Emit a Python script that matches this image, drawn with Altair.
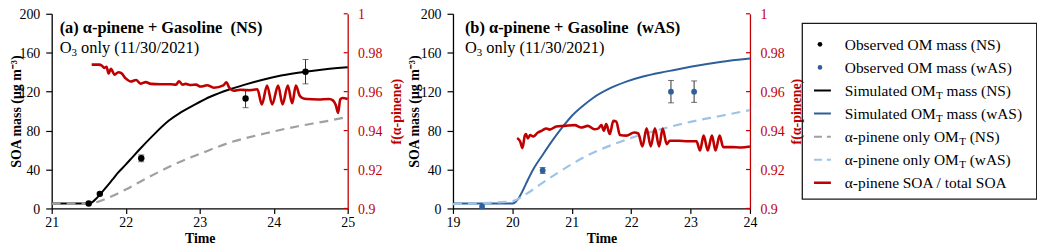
import altair as alt
import pandas as pd

# ---------------- Panel (a): α-pinene + Gasoline (NS) ----------------
ns_sim_t = [21.0, 21.5, 21.55, 21.6, 21.65, 21.7, 21.76, 21.82, 21.9, 22.0, 22.09, 22.18,
            22.35, 22.58, 22.75, 22.94, 23.15, 23.39, 23.6, 23.84, 24.1, 24.43, 24.7, 25.0]
ns_sim_v = [5, 5, 6.5, 10, 14, 18.5, 24, 29.5, 37, 45, 52.5, 60,
            73.5, 90, 99, 107, 115, 122, 127, 132, 136.5, 140.5, 143, 145]

ns_alpha_t = [21.0, 21.5, 21.7, 22.0, 22.27, 22.54, 22.77, 23.0, 23.4, 23.88, 24.33, 24.7, 25.0]
ns_alpha_v = [5, 5, 9, 19.5, 30.5, 41, 49, 56, 67.5, 77, 84.5, 89.5, 94]

ns_obs_t = [21.5, 21.65, 22.21, 23.62, 24.43]
ns_obs_v = [5, 15, 51.5, 113, 140.5]
ns_obs_err = [0, 0, 3.5, 9.5, 12.5]

ns_f_t = [21.54, 21.64, 21.68, 21.71, 21.74, 21.77, 21.80, 21.85, 21.90, 21.94, 22.00, 22.07,
          22.14, 22.20, 22.27, 22.34, 22.47, 22.61, 22.68, 22.72, 22.77, 22.81, 22.88, 22.95,
          23.01, 23.10, 23.19, 23.32, 23.36, 23.40, 23.46, 23.55, 23.64, 23.73, 23.78, 23.84,
          23.91, 23.98, 24.06, 24.12, 24.19, 24.25, 24.30, 24.35, 24.39, 24.45, 24.60, 24.75,
          24.80, 24.84, 24.87, 24.90, 24.93, 25.0]
ns_f_v = [.9739, .9739, .9733, .9722, .9728, .9693, .9717, .9687, .9700, .9695, .9668, .9652,
          .9660, .9641, .9649, .9640, .9638, .9638, .9636, .9653, .9636, .9640, .9634, .9636,
          .9626, .9633, .9620, .9632, .9648, .9620, .9605, .9610, .9607, .9610, .9612, .9534,
          .9631, .9534, .9631, .9534, .9631, .9540, .9631, .9580, .9567, .9562, .9560, .9562,
          .9555, .9530, .9491, .9560, .9567, .9562]

# ---------------- Panel (b): α-pinene + Gasoline (wAS) ----------------
was_sim_t = [19.0, 19.5, 20.0, 20.05, 20.1, 20.18, 20.25, 20.35, 20.52, 20.7, 20.85, 21.0,
             21.2, 21.37, 21.63, 21.93, 22.2, 22.49, 22.75, 23.0, 23.5, 24.0]
was_sim_v = [5, 5, 5, 6.5, 10, 19, 28, 40, 56, 72, 84, 95,
             106, 114, 123, 130.5, 135.5, 139.5, 142.5, 145.5, 150.5, 154]

was_alpha_t = [19.0, 19.5, 20.0, 20.25, 20.5, 20.75, 21.0, 21.25, 21.5, 21.75, 22.0, 22.33,
               22.66, 23.0, 23.5, 24.0]
was_alpha_v = [4.5, 5.5, 7.5, 15.5, 26, 36, 45.5, 54, 61, 67, 72.5, 78.5,
               84, 89, 95, 101]

was_obs_t = [19.49, 20.51, 22.67, 23.06]
was_obs_v = [2, 39, 120, 120]
was_obs_err = [0, 3, 11.5, 11]

was_f_t = [20.08, 20.13, 20.17, 20.21, 20.23, 20.26, 20.30, 20.35, 20.43, 20.50, 20.57, 20.63,
           20.74, 20.88, 21.05, 21.16, 21.27, 21.38, 21.44, 21.50, 21.54, 21.58, 21.64, 21.70,
           21.75, 21.81, 21.92, 22.05, 22.12, 22.19, 22.26, 22.33, 22.40, 22.47, 22.53, 22.60,
           22.65, 22.80, 22.95, 23.10, 23.16, 23.22, 23.29, 23.36, 23.42, 23.49, 23.55, 23.70,
           23.85, 24.0]
was_f_v = [.9362, .9345, .9310, .9375, .9382, .9360, .9377, .9370, .9390, .9400, .9411, .9405,
           .9421, .9424, .9428, .9416, .9424, .9407, .9410, .9428, .9399, .9433, .9382, .9450,
           .9446, .9377, .9374, .9390, .9385, .9318, .9412, .9318, .9412, .9318, .9410, .9330,
           .9348, .9348, .9345, .9345, .9298, .9374, .9298, .9374, .9298, .9374, .9315, .9315,
           .9313, .9318]

# ---------------- ticks / labels ----------------
soa_ticks = [0, 40, 80, 120, 160, 200]
f_ticks = [0.9, 0.92, 0.94, 0.96, 0.98, 1.0]
a_x_ticks = [21, 22, 23, 24, 25]
b_x_ticks = [19, 20, 21, 22, 23, 24]

legend_keys = ["obs_ns", "obs_was", "sim_ns", "sim_was", "alp_ns", "alp_was", "ratio"]
legend_main = ["Observed OM mass (NS)", "Observed OM mass (wAS)", "Simulated OM", "Simulated OM",
               "α-pinene only OM", "α-pinene only OM", "α-pinene SOA / total SOA"]
legend_sub = ["", "", "T", "T", "T", "T", ""]
legend_tail = ["", "", " mass (NS)", " mass (wAS)", " (NS)", " (wAS)", ""]

# ---------------- styles ----------------
FONT = "'Liberation Serif', 'Times New Roman', Times, serif"
RED = "#c00000"
BLACK = "#000000"
BLUE = "#2f5f9a"
LBLUE = "#9dc3e6"
GRAY = "#a0a0a0"
W_A, W_B, H = 298, 299, 196
LEG_W, LEG_H = 236, 177

# Times / Liberation Serif advance widths (1/1000 em), used to place subscripts
TIMES_W = {' ': 250, '(': 333, ')': 333, '-': 333, '/': 278, 'A': 722, 'M': 889, 'N': 722,
           'O': 722, 'S': 556, 'T': 611, 'W': 944, 'a': 444, 'b': 500, 'd': 500, 'e': 444,
           'i': 278, 'l': 278, 'm': 778, 'n': 500, 'o': 500, 'p': 500, 'r': 333, 's': 389,
           't': 278, 'u': 500, 'v': 500, 'y': 500, 'α': 540}


def tw(s, size):
    return sum(TIMES_W.get(c, 500) for c in s) / 1000.0 * size


one = pd.DataFrame({"a": [0]})


def panel(x_domain, x_ticks, width, sim_t, sim_v, sim_color, alpha_t, alpha_v, alpha_color,
          obs_t, obs_v, obs_err, obs_color, obs_size, f_t, f_v, title, text_x,
          ytitle_x, ftitle_x):
    x_axis = alt.Axis(values=x_ticks, format="d", grid=False, tickSize=5, labelPadding=2,
                      labelFlush=False, labelOverlap=False, title="Time", titleFontWeight="bold",
                      titleY=34, titleBaseline="alphabetic")
    y_axis = alt.Axis(values=soa_ticks, grid=False, tickSize=6, labelPadding=6, labelOffset=1,
                      title="SOA mass (μg m⁻³)", titleFontWeight="bold", titleAngle=270,
                      titleX=ytitle_x, titleY=H / 2, titleAlign="center", titleBaseline="middle")
    f_axis = alt.Axis(orient="right", values=f_ticks, format="~g", grid=False, ticks=False,
                      labelPadding=10, labelOffset=1, labelColor=RED, domainColor=RED,
                      title="f(α-pinene)", titleColor=RED, titleFontWeight="bold", titleAngle=270,
                      titleX=ftitle_x, titleY=H / 2, titleAlign="center", titleBaseline="middle")
    xs = alt.Scale(domain=x_domain, nice=False, zero=False)
    ys = alt.Scale(domain=[0, 200], nice=False)
    fs = alt.Scale(domain=[0.9, 1.0], nice=False, zero=False)
    X = alt.X("t:Q", scale=xs, axis=x_axis)
    Y = alt.Y("v:Q", scale=ys, axis=y_axis)

    sim_df = pd.DataFrame({"t": sim_t, "v": sim_v})
    alp_df = pd.DataFrame({"t": alpha_t, "v": alpha_v})
    obs_df = pd.DataFrame({"t": obs_t, "v": obs_v, "err": obs_err})
    obs_df["lo"] = obs_df.v - obs_df.err
    obs_df["hi"] = obs_df.v + obs_df.err
    eb = obs_df[obs_df.err > 0]
    cap_df = pd.DataFrame({"t": list(eb.t) * 2, "v": list(eb.lo) + list(eb.hi)})
    f_df = pd.DataFrame({"t": f_t, "f": f_v})

    sim = alt.Chart(sim_df).mark_line(color=sim_color, strokeWidth=2, interpolate="monotone").encode(x=X, y=Y)
    alp = alt.Chart(alp_df).mark_line(color=alpha_color, strokeWidth=2.2, strokeDash=[9, 6],
                                      interpolate="monotone").encode(x=X, y=Y)
    rules = alt.Chart(eb).mark_rule(color="#333333", strokeWidth=1).encode(
        x=X, y=alt.Y("lo:Q", scale=ys, axis=y_axis), y2="hi:Q")
    caps = alt.Chart(cap_df).mark_tick(color="#333333", orient="horizontal", size=6, thickness=1).encode(x=X, y=Y)
    pts = alt.Chart(obs_df).mark_circle(color=obs_color, size=obs_size, opacity=1).encode(x=X, y=Y)

    t1 = alt.Chart(one).mark_text(text=title, fontSize=16.5, fontWeight="bold", align="left",
                                  baseline="alphabetic", color="black").encode(
        x=alt.value(text_x), y=alt.value(19.7))
    o_w = tw("O", 16.5)
    s_w = tw("3", 11)
    t2a = alt.Chart(one).mark_text(text="O", fontSize=16.5, align="left", baseline="alphabetic",
                                   color="black").encode(x=alt.value(text_x), y=alt.value(39.3))
    t2b = alt.Chart(one).mark_text(text="3", fontSize=11, align="left", baseline="alphabetic",
                                   color="black").encode(x=alt.value(text_x + o_w), y=alt.value(42.8))
    t2c = alt.Chart(one).mark_text(text="only (11/30/2021)", fontSize=16.5, align="left",
                                   baseline="alphabetic", color="black").encode(
        x=alt.value(text_x + o_w + s_w + tw(" ", 16.5)), y=alt.value(39.3))

    F = alt.Y("f:Q", scale=fs, axis=f_axis)
    red = alt.Chart(f_df).mark_line(color=RED, strokeWidth=2.6, interpolate="monotone").encode(x=X, y=F)
    red_ticks = alt.Chart(pd.DataFrame({"f": f_ticks})).mark_rule(color=RED, strokeWidth=1.2).encode(
        y=F, x=alt.value(width - 4), x2=alt.value(width))

    soa = alt.layer(sim, alp, rules, caps, pts, t1, t2a, t2b, t2c)
    frac = alt.layer(red, red_ticks)
    return alt.layer(soa, frac).resolve_scale(y="independent").properties(width=width, height=H)


pa = panel([21, 25], a_x_ticks, W_A, ns_sim_t, ns_sim_v, BLACK, ns_alpha_t, ns_alpha_v, GRAY,
           ns_obs_t, ns_obs_v, ns_obs_err, BLACK, 42, ns_f_t, ns_f_v,
           "(a) α-pinene + Gasoline \u00a0(NS)", 8, -35, 49)
pb = panel([19, 24], b_x_ticks, W_B, was_sim_t, was_sim_v, BLUE, was_alpha_t, was_alpha_v, LBLUE,
           was_obs_t, was_obs_v, was_obs_err, BLUE, 34, was_f_t, was_f_v,
           "(b) α-pinene + Gasoline \u00a0(wAS)", 12, -39, 47)

# ---------------- legend panel ----------------
LFS = 15.5
SFS = 11
TX = 43
leg = pd.DataFrame({"key": legend_keys, "main": legend_main, "sub": legend_sub,
                    "tail": [s.strip() for s in legend_tail]})
leg["row"] = list(range(len(legend_keys)))
leg["x_sub"] = [TX + tw(m, LFS) for m in legend_main]
leg["x_tail"] = [TX + tw(m, LFS) + tw(s, SFS) + tw(" ", LFS) for m, s in zip(legend_main, legend_sub)]

key_colors = [BLACK, BLUE, BLACK, BLUE, GRAY, LBLUE, RED]
key_dash = [[1, 0], [1, 0], [1, 0], [1, 0], [8, 5], [8, 5], [1, 0]]
key_width = [2, 2, 2, 2, 2, 2, 2.6]
LY = alt.Y("row:Q", scale=alt.Scale(domain=[-0.917, 6.703], reverse=True, nice=False, zero=False), axis=None)
LC = alt.Color("key:N", scale=alt.Scale(domain=legend_keys, range=key_colors), legend=None)
dots = ["obs_ns", "obs_was"]

base = alt.Chart(leg)
l_pts = base.transform_filter(alt.FieldOneOfPredicate(field="key", oneOf=dots)).mark_circle(
    size=22, opacity=1).encode(x=alt.value(18), y=LY, color=LC)
l_lines = base.transform_filter(~alt.FieldOneOfPredicate(field="key", oneOf=dots)).mark_rule().encode(
    x=alt.value(12), x2=alt.value(29), y=LY, color=LC,
    strokeDash=alt.StrokeDash("key:N", scale=alt.Scale(domain=legend_keys, range=key_dash), legend=None),
    strokeWidth=alt.StrokeWidth("key:O", scale=alt.Scale(type="ordinal", domain=legend_keys, range=key_width),
                                legend=None))
l_main = base.mark_text(fontSize=LFS, align="left", baseline="alphabetic", dy=5.3, color="black").encode(
    x=alt.value(TX), y=LY, text="main:N")
l_sub = base.mark_text(fontSize=SFS, align="left", baseline="alphabetic", dy=8.3, color="black").encode(
    x=alt.X("x_sub:Q", scale=None, axis=None), y=LY, text="sub:N")
l_tail = base.mark_text(fontSize=LFS, align="left", baseline="alphabetic", dy=5.3, color="black").encode(
    x=alt.X("x_tail:Q", scale=None, axis=None), y=LY, text="tail:N")
legend = alt.layer(l_pts, l_lines, l_main, l_sub, l_tail).properties(
    width=LEG_W, height=LEG_H, view=alt.ViewBackground(stroke="#1a1a1a", strokeWidth=1.3))

spacer = alt.Chart(one).mark_point(opacity=0).encode(x=alt.value(0), y=alt.value(0)).properties(width=1, height=H)

chart = alt.hconcat(pa, spacer, pb, legend, spacing=52.5, bounds="flush", center=True).properties(
    autosize=alt.AutoSizeParams(type="none"),
    padding={"left": 44, "top": 5, "right": 992, "bottom": 234},
).configure(font=FONT).configure_view(stroke=None).configure_axis(
    labelFont=FONT, titleFont=FONT, labelFontSize=14, titleFontSize=14, labelColor="black",
    titleColor="black", domainColor="black", tickColor="black", domainWidth=1.3, tickWidth=1.2
).configure_text(font=FONT)

chart.save("out.html", embed_options={"renderer": "svg", "actions": False})
